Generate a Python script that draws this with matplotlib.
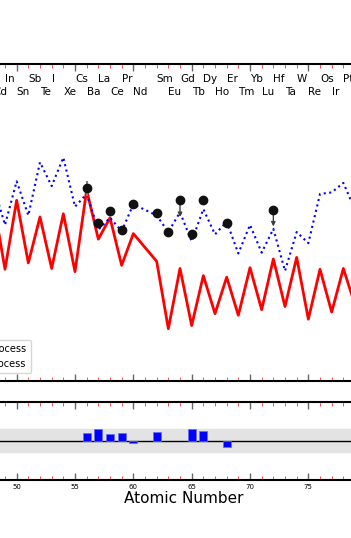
import numpy as np
import matplotlib
matplotlib.use('Agg')
import matplotlib.pyplot as plt
import matplotlib.transforms as mtransforms
from matplotlib.ticker import MultipleLocator

# ==================== 数据 ====================
# 模型丰度 (Pm=61 无数据)
z_model = [48, 49, 50, 51, 52, 53, 54, 55, 56, 57, 58, 59, 60,
           62, 63, 64, 65, 66, 67, 68, 69, 70, 71, 72, 73, 74, 75, 76, 77, 78, 79]
s_process = [-0.73, -1.59, -0.72, -1.51, -0.93, -1.58, -0.89, -1.62, -0.59, -1.21, -0.94, -1.54, -1.14,
             -1.49, -2.34, -1.58, -2.30, -1.67, -2.15, -1.69, -2.17, -1.57, -2.10, -1.46, -2.06,
             -1.44, -2.22, -1.59, -2.13, -1.58, -2.04]
r_process = [-0.53, -1.03, -0.48, -0.91, -0.24, -0.54, -0.18, -0.80, -0.64, -1.09, -0.94, -1.11, -0.77,
             -0.91, -1.12, -0.87, -1.24, -0.83, -1.15, -0.99, -1.39, -1.03, -1.38, -1.08, -1.61,
             -1.12, -1.26, -0.64, -0.62, -0.50, -0.84]

# 观测值
z_obs = [56, 57, 58, 59, 60, 62, 63, 64, 65, 66, 68, 72]
obs = [-0.57, -1.01, -0.85, -1.09, -0.77, -0.88, -1.12, -0.72, -1.14, -0.72, -1.00, -0.84]
obs_err = [0.09, 0.04, 0.04, 0.04, 0.04, 0.04, 0.04, 0.0, 0.04, 0.04, 0.04, 0.0]
upper_limit = [False, False, False, False, False, False, False, True, False, False, False, True]
limit_len = 0.21

# 残差
z_res = [56, 57, 58, 59, 60, 62, 65, 66, 68]
residual = [0.13, 0.20, 0.125, 0.13, -0.04, 0.15, 0.21, 0.18, -0.12]

# 元素符号 (交替两行)
z_elem = [48, 49, 50, 51, 52, 53, 54, 55, 56, 57, 58, 59, 60,
          62, 63, 64, 65, 66, 67, 68, 69, 70, 71, 72, 73, 74, 75, 76, 77, 78]
elements = ['Cd', 'In', 'Sn', 'Sb', 'Te', 'I', 'Xe', 'Cs', 'Ba', 'La', 'Ce', 'Pr', 'Nd',
            'Sm', 'Eu', 'Gd', 'Tb', 'Dy', 'Ho', 'Er', 'Tm', 'Yb', 'Lu', 'Hf', 'Ta', 'W', 'Re',
            'Os', 'Ir', 'Pt']

# ==================== 画图 ====================
fig = plt.figure(figsize=(3.51, 5.38), dpi=100)
ax = fig.add_axes([-0.057, 0.2918, 1.1584, 0.5892])
axr = fig.add_axes([-0.057, 0.1084, 1.1584, 0.1453], sharex=ax)

ax.plot(z_model, s_process, color='red', lw=2, label='s-process')
ax.plot(z_model, r_process, color='blue', lw=1.5, ls=':', label='r-process')

z_obs = np.array(z_obs)
obs = np.array(obs)
ax.errorbar(z_obs, obs, yerr=obs_err, fmt='o', color='#111111', ecolor='0.5',
            ms=6, capsize=0, zorder=5)
for z, y, lim in zip(z_obs, obs, upper_limit):
    if lim:
        ax.annotate('', xy=(z, y - limit_len), xytext=(z, y),
                    arrowprops=dict(arrowstyle='-|>', color='0.25', lw=1,
                                    mutation_scale=6, shrinkA=0, shrinkB=0), zorder=4)

trans = mtransforms.blended_transform_factory(ax.transData, ax.transAxes)
for i, (z, name) in enumerate(zip(z_elem, elements)):
    ypos = 0.911 if i % 2 == 0 else 0.953
    ax.text(z, ypos, name, transform=trans, ha='left', va='center', fontsize=7.5)

ax.set_xlim(46.857, 81.707)
ax.set_ylim(-3, 1)
ax.set_yticks([])

leg = ax.legend(loc='lower right', bbox_to_anchor=(30.7 / 351, 165 / 538),
                bbox_transform=fig.transFigure, fontsize=7, borderaxespad=0,
                edgecolor='0.8')

# 残差面板
axr.axhspan(-0.2, 0.2, color='0.89', zorder=0)
axr.axhline(0, color='k', lw=1, zorder=2)
axr.bar(z_res, residual, width=0.7, color='blue', edgecolor='#6a6aff', lw=0.5, zorder=3)
axr.set_ylim(-0.7, 0.7)
axr.set_yticks([])
axr.set_xlabel('Atomic Number', fontsize=11, labelpad=1)

for a in (ax, axr):
    a.xaxis.set_major_locator(MultipleLocator(5))
    a.xaxis.set_minor_locator(MultipleLocator(1))
    a.tick_params(axis='x', which='major', direction='in', top=True, bottom=True,
                  length=5, width=1, color='0.4', labelsize=5, pad=3)
    a.tick_params(axis='x', which='minor', direction='in', top=True, bottom=True,
                  length=3, width=0.7, color='#ff5050')
    for s in a.spines.values():
        s.set_linewidth(1.5)
    a.spines['left'].set_visible(False)
    a.spines['right'].set_visible(False)
    a.tick_params(axis='y', left=False, right=False)

ax.tick_params(axis='x', labelbottom=False)

fig.savefig('out.png', dpi=100)
